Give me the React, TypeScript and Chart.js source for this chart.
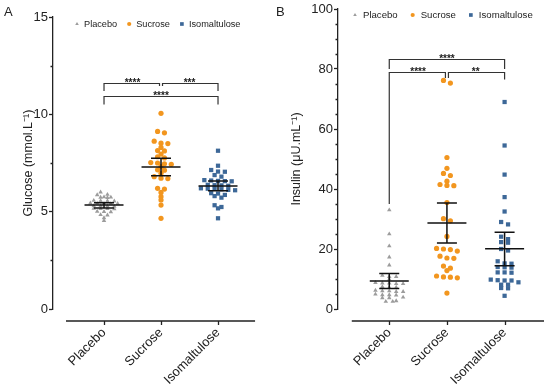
import { useEffect, useRef } from "react";
import { Chart, registerables } from "chart.js";

Chart.register(...registerables);

const FONT = '"Liberation Sans", Arial, Helvetica, sans-serif';
const INK = "#222222";

// ---------- data ----------
const categories = ["Placebo", "Sucrose", "Isomaltulose"];
const seriesColors = ["#9c9c9c", "#f2961f", "#3d6898"];
const pointStyles = ["triangle", "circle", "rect"];
const pointRadii = [2.6, 2.6, 3.0];

const glucosePlacebo = [6.0, 5.88, 5.86, 5.75, 5.74, 5.73, 5.72, 5.57, 5.56, 5.55, 5.54, 5.44, 5.43, 5.43, 5.42, 5.41, 5.3, 5.29, 5.28, 5.27, 5.16, 5.15, 5.15, 5.14, 5.01, 5.0, 4.99, 4.84, 4.82, 4.68, 4.54];
const glucoseSucrose = [10.05, 9.12, 9.05, 8.62, 8.52, 8.5, 8.3, 8.14, 8.12, 7.96, 7.82, 7.76, 7.52, 7.5, 7.46, 7.43, 7.31, 7.15, 7.13, 6.97, 6.8, 6.72, 6.7, 6.2, 6.16, 5.99, 5.77, 5.6, 5.34, 4.66];
const glucoseIsomaltulose = [8.13, 7.36, 7.14, 7.06, 7.05, 6.88, 6.8, 6.62, 6.6, 6.58, 6.57, 6.56, 6.38, 6.36, 6.35, 6.33, 6.2, 6.18, 6.17, 6.15, 6.12, 6.1, 5.95, 5.93, 5.86, 5.8, 5.72, 5.33, 5.24, 5.17, 4.66];
const glucoseMean = [5.34, 7.29, 6.32];
const glucoseCiLow = [5.19, 6.85, 6.08];
const glucoseCiHigh = [5.46, 7.74, 6.57];
const glucoseTicks = [0, 5, 10, 15];
const glucoseMinorStep = 2.5;

const insulinPlacebo = [33, 25, 21, 17.3, 14.6, 11.2, 10.8, 10.8, 9.9, 8.8, 8.6, 8.6, 8.4, 8.4, 7.4, 7.2, 7.2, 6.2, 6.0, 6.0, 5.8, 5.8, 4.9, 4.7, 4.7, 4.6, 3.9, 3.7, 3.7, 2.7, 2.5, 2.5];
const insulinSucrose = [76.2, 75.3, 50.5, 46.9, 45.2, 44.5, 42.6, 41.5, 41.2, 41.1, 35.5, 30.1, 29.4, 24.2, 20.2, 20.0, 19.8, 19.3, 17.6, 17.0, 16.9, 14.3, 13.6, 12.8, 11.0, 10.7, 10.6, 10.4, 5.3];
const insulinIsomaltulose = [69, 54.5, 44.8, 37.3, 32.5, 29.0, 28.2, 24.1, 23.3, 22.3, 22.1, 20.0, 19.5, 15.9, 15.2, 15.1, 14.0, 13.9, 13.8, 12.2, 12.2, 12.1, 9.8, 9.6, 9.5, 9.5, 8.9, 8.1, 8.1, 7.0, 6.9, 4.4];
const insulinMean = [9.3, 28.7, 20.1];
const insulinCiLow = [6.8, 22.0, 14.4];
const insulinCiHigh = [11.8, 35.3, 25.6];
const insulinTicks = [0, 20, 40, 60, 80, 100];
const insulinMinorStep = 5;

// significance brackets
const glucoseBracketFrom = [0, 1, 0];
const glucoseBracketTo = [1, 2, 2];
const glucoseBracketLevel = [11.6, 11.6, 10.95];
const glucoseBracketLeftEnd = [11.2, 11.45, 10.5];
const glucoseBracketRightEnd = [11.45, 11.2, 10.5];
const glucoseBracketLabel = ["****", "***", "****"];

const insulinBracketFrom = [0, 0, 1];
const insulinBracketTo = [2, 1, 2];
const insulinBracketLevel = [83.4, 79, 79];
const insulinBracketLeftEnd = [80, 35, 77];
const insulinBracketRightEnd = [80, 77, 76.5];
const insulinBracketLabel = ["****", "****", "**"];

// ---------- helpers ----------
function swarm(values: number[], rowTol: number, step: number, center: number) {
  const sorted = [...values].sort((a, b) => b - a);
  const out: { x: number; y: number }[] = [];
  let i = 0;
  while (i < sorted.length) {
    const row = [sorted[i]];
    let j = i + 1;
    while (j < sorted.length && sorted[i] - sorted[j] < rowTol) {
      row.push(sorted[j]);
      j++;
    }
    row.forEach((v, k) => out.push({ x: center + (k - (row.length - 1) / 2) * step, y: v }));
    i = j;
  }
  return out;
}

function drawMarker(ctx: CanvasRenderingContext2D, style: string, x: number, y: number, r: number, color: string) {
  ctx.fillStyle = color;
  ctx.beginPath();
  if (style === "triangle") {
    ctx.moveTo(x, y - r);
    ctx.lineTo(x + r * 0.866, y + r * 0.5);
    ctx.lineTo(x - r * 0.866, y + r * 0.5);
    ctx.closePath();
  } else if (style === "circle") {
    ctx.arc(x, y, r, 0, Math.PI * 2);
  } else {
    const s = r * Math.SQRT1_2;
    ctx.rect(x - s, y - s, 2 * s, 2 * s);
  }
  ctx.fill();
}

type Spec = {
  letter: string;
  title: string;
  groups: number[][];
  mean: number[];
  ciLow: number[];
  ciHigh: number[];
  ticks: number[];
  minorStep: number;
  yMax: number;
  rowTol: number;
  bFrom: number[];
  bTo: number[];
  bLevel: number[];
  bLeft: number[];
  bRight: number[];
  bLabel: string[];
  left: number;
  top: number;
  bottom: number;
  padRight: number;
  xMin: number;
  xMax: number;
  axisFrom: number;
  axisTo: number;
  titlePad: number;
  xLabelPad: number;
  legendX: number;
  legendY: number;
  legendFont: number;
  legendMarkerGap: number;
  legendItemGap: number;
  letterX: number;
};

const W = 275;
const H = 387;

function makeChart(canvas: HTMLCanvasElement, spec: Spec) {
  const datasets = spec.groups.map((vals, gi) => ({
    label: categories[gi],
    data: swarm(vals, spec.rowTol, 0.12, gi),
    pointStyle: pointStyles[gi] as any,
    pointRadius: pointRadii[gi],
    pointBackgroundColor: seriesColors[gi],
    pointBorderWidth: 0,
    showLine: false,
  }));

  const overlay = {
    id: "overlay" + spec.letter,
    afterDatasetsDraw(chart: any) {
      const ctx: CanvasRenderingContext2D = chart.ctx;
      const xs = chart.scales.x;
      const ys = chart.scales.y;
      const area = chart.chartArea;
      ctx.save();

      // detached x axis
      const axisY = area.bottom + 12;
      ctx.strokeStyle = INK;
      ctx.lineWidth = 1.3;
      ctx.beginPath();
      ctx.moveTo(xs.getPixelForValue(spec.axisFrom), axisY);
      ctx.lineTo(xs.getPixelForValue(spec.axisTo), axisY);
      categories.forEach((_, i) => {
        const px = Math.round(xs.getPixelForValue(i)) + 0.5;
        ctx.moveTo(px, axisY);
        ctx.lineTo(px, axisY + 4);
      });
      ctx.stroke();

      // minor y ticks
      ctx.beginPath();
      for (let v = spec.minorStep; v < spec.yMax; v += spec.minorStep) {
        if (spec.ticks.includes(v)) continue;
        const py = Math.round(ys.getPixelForValue(v)) + 0.5;
        ctx.moveTo(area.left - 2.5, py);
        ctx.lineTo(area.left, py);
      }
      ctx.stroke();

      // mean and CI
      ctx.strokeStyle = "#111";
      ctx.lineWidth = 1.5;
      spec.mean.forEach((m, i) => {
        const cx = xs.getPixelForValue(i);
        const my = ys.getPixelForValue(m);
        const hy = ys.getPixelForValue(spec.ciHigh[i]);
        const ly = ys.getPixelForValue(spec.ciLow[i]);
        ctx.beginPath();
        ctx.moveTo(cx - 19.5, my);
        ctx.lineTo(cx + 19.5, my);
        ctx.moveTo(cx, hy);
        ctx.lineTo(cx, ly);
        ctx.moveTo(cx - 10, hy);
        ctx.lineTo(cx + 10, hy);
        ctx.moveTo(cx - 10, ly);
        ctx.lineTo(cx + 10, ly);
        ctx.stroke();
      });

      // brackets
      ctx.strokeStyle = "#333";
      ctx.lineWidth = 1.2;
      ctx.fillStyle = INK;
      ctx.font = `bold 10px ${FONT}`;
      ctx.textAlign = "center";
      ctx.textBaseline = "alphabetic";
      spec.bFrom.forEach((from, k) => {
        const to = spec.bTo[k];
        const lvl = spec.bLevel[k];
        const shared = (cat: number) =>
          spec.bFrom.some((f, j) => j !== k && spec.bLevel[j] === lvl && (f === cat || spec.bTo[j] === cat));
        const x1 = xs.getPixelForValue(from) + (shared(from) ? 1.5 : 0);
        const x2 = xs.getPixelForValue(to) - (shared(to) ? 1.5 : 0);
        const y = Math.round(ys.getPixelForValue(lvl)) + 0.5;
        ctx.beginPath();
        ctx.moveTo(x1, ys.getPixelForValue(spec.bLeft[k]));
        ctx.lineTo(x1, y);
        ctx.lineTo(x2, y);
        ctx.lineTo(x2, ys.getPixelForValue(spec.bRight[k]));
        ctx.stroke();
        ctx.fillText(spec.bLabel[k], (xs.getPixelForValue(from) + xs.getPixelForValue(to)) / 2, y + 2.5);
      });

      // legend
      ctx.font = `${spec.legendFont}px ${FONT}`;
      ctx.textAlign = "left";
      ctx.textBaseline = "middle";
      let lx = spec.legendX;
      categories.forEach((name, i) => {
        drawMarker(ctx, pointStyles[i], lx, spec.legendY, i === 2 ? 2.6 : 2.1, seriesColors[i]);
        ctx.fillStyle = INK;
        const tx = lx + spec.legendMarkerGap;
        ctx.fillText(name, tx, spec.legendY);
        lx = tx + ctx.measureText(name).width + spec.legendItemGap;
      });

      // panel letter
      ctx.font = `13px ${FONT}`;
      ctx.textBaseline = "alphabetic";
      ctx.fillStyle = INK;
      ctx.fillText(spec.letter, spec.letterX, 16);

      ctx.restore();
    },
  };

  return new Chart(canvas, {
    type: "scatter",
    data: { datasets: datasets as any },
    plugins: [overlay],
    options: {
      animation: false,
      responsive: false,
      devicePixelRatio: 1,
      layout: { padding: { left: 0, right: spec.padRight, top: spec.top, bottom: 0 } },
      plugins: { legend: { display: false }, tooltip: { enabled: false } },
      scales: {
        x: {
          type: "linear",
          min: spec.xMin,
          max: spec.xMax,
          afterBuildTicks: (s: any) => {
            s.ticks = categories.map((_, i) => ({ value: i }));
          },
          afterFit: (s: any) => {
            s.height = H - spec.bottom;
          },
          grid: { display: false },
          border: { display: false },
          ticks: {
            autoSkip: false,
            maxRotation: 45,
            minRotation: 45,
            padding: spec.xLabelPad,
            color: INK,
            font: { size: 13, family: FONT },
            callback: (v: any) => categories[v as number] ?? "",
          },
        },
        y: {
          type: "linear",
          min: 0,
          max: spec.yMax,
          afterBuildTicks: (s: any) => {
            s.ticks = spec.ticks.map((v) => ({ value: v }));
          },
          afterFit: (s: any) => {
            s.width = spec.left;
          },
          grid: { drawOnChartArea: false, tickLength: 4, color: INK, tickWidth: 1.3 },
          border: { color: INK, width: 1.3 },
          ticks: { padding: 1, color: INK, font: { size: 13, family: FONT } },
          title: {
            display: true,
            text: spec.title,
            color: INK,
            font: { size: 12.5, family: FONT },
            padding: { top: spec.titlePad, bottom: 0 },
          },
        },
      },
    } as any,
  });
}

const specA: Spec = {
  letter: "A",
  title: "Glucose (mmol.L\u207B\u00B9)",
  groups: [glucosePlacebo, glucoseSucrose, glucoseIsomaltulose],
  mean: glucoseMean,
  ciLow: glucoseCiLow,
  ciHigh: glucoseCiHigh,
  ticks: glucoseTicks,
  minorStep: glucoseMinorStep,
  yMax: 15,
  rowTol: 0.125,
  bFrom: glucoseBracketFrom,
  bTo: glucoseBracketTo,
  bLevel: glucoseBracketLevel,
  bLeft: glucoseBracketLeftEnd,
  bRight: glucoseBracketRightEnd,
  bLabel: glucoseBracketLabel,
  left: 53,
  top: 17,
  bottom: 309,
  padRight: 5,
  xMin: -0.895,
  xMax: 2.912,
  axisFrom: -0.667,
  axisTo: 2.65,
  titlePad: 21,
  xLabelPad: 8,
  legendX: 77,
  legendY: 24,
  legendFont: 9.2,
  legendMarkerGap: 7,
  legendItemGap: 12,
  letterX: 4,
};

const specB: Spec = {
  letter: "B",
  title: "Insulin (\u03BCU.mL\u207B\u00B9)",
  groups: [insulinPlacebo, insulinSucrose, insulinIsomaltulose],
  mean: insulinMean,
  ciLow: insulinCiLow,
  ciHigh: insulinCiHigh,
  ticks: insulinTicks,
  minorStep: insulinMinorStep,
  yMax: 100,
  rowTol: 1.05,
  bFrom: insulinBracketFrom,
  bTo: insulinBracketTo,
  bLevel: insulinBracketLevel,
  bLeft: insulinBracketLeftEnd,
  bRight: insulinBracketRightEnd,
  bLabel: insulinBracketLabel,
  left: 63,
  top: 9,
  bottom: 309,
  padRight: 1,
  xMin: -0.889,
  xMax: 2.718,
  axisFrom: -0.65,
  axisTo: 2.684,
  titlePad: 14,
  xLabelPad: 8,
  legendX: 80,
  legendY: 15,
  legendFont: 9.6,
  legendMarkerGap: 8,
  legendItemGap: 15,
  letterX: 1,
};

function Panel({ spec, left }: { spec: Spec; left: number }) {
  const ref = useRef<HTMLCanvasElement | null>(null);
  useEffect(() => {
    if (!ref.current) return;
    const chart = makeChart(ref.current, spec);
    return () => chart.destroy();
  }, [spec]);
  return (
    <canvas
      ref={ref}
      width={W}
      height={H}
      style={{ position: "absolute", left, top: 0, width: W, height: H, display: "block" }}
    />
  );
}

export default function App() {
  return (
    <div style={{ position: "fixed", left: 0, top: 0, width: 550, height: 387, background: "#fff" }}>
      <Panel spec={specA} left={0} />
      <Panel spec={specB} left={275} />
    </div>
  );
}
